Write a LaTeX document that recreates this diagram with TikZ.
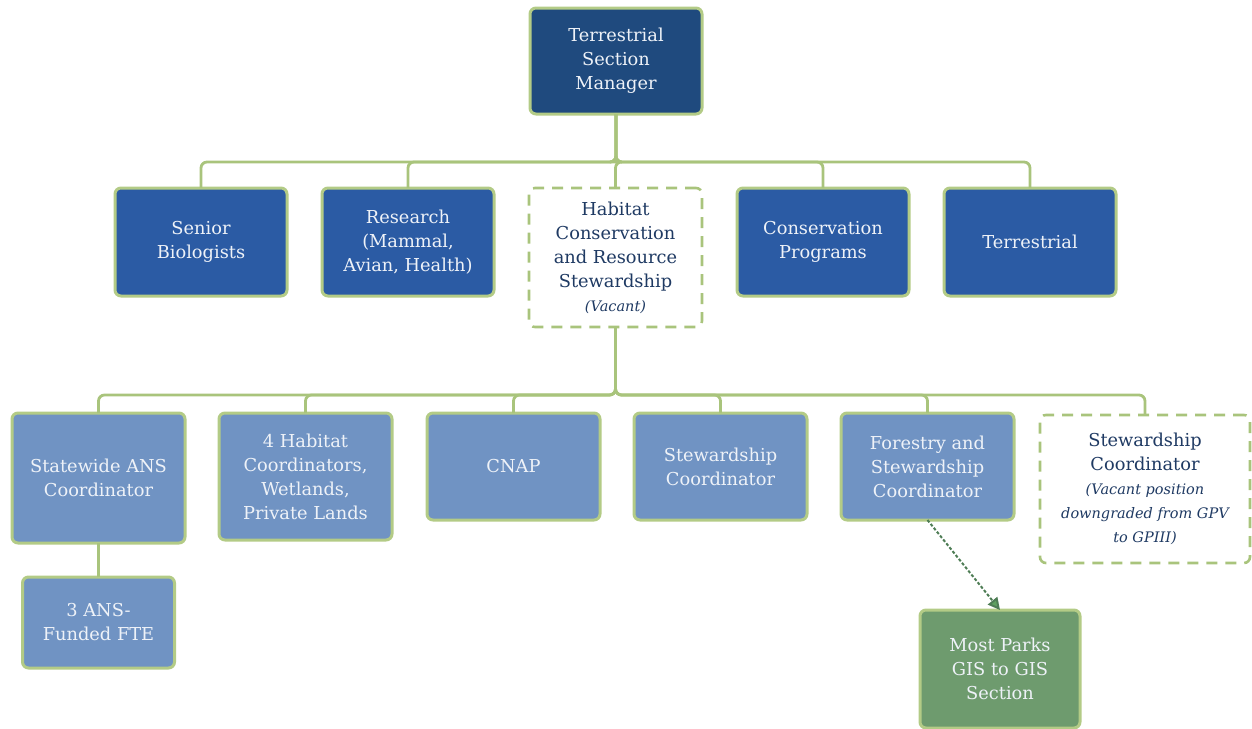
\documentclass[tikz,border=0pt]{standalone}
\usepackage{fontspec}
\setmainfont{DejaVu Serif}
\usetikzlibrary{arrows.meta,positioning}
\definecolor{navy}{HTML}{1F4A7E}
\definecolor{midblue}{HTML}{2B5BA4}
\definecolor{softblue}{HTML}{7093C3}
\definecolor{leaf}{HTML}{6E9B6E}
\definecolor{rim}{HTML}{B3CB86}
\definecolor{twig}{HTML}{A9C47C}
\definecolor{dark}{HTML}{1F3A63}
\definecolor{pale}{HTML}{EEF2F8}
\definecolor{pine}{HTML}{4E7D55}
\definecolor{sprig}{HTML}{5FA060}
\newcommand{\vac}{\fontsize{14.5}{22}\selectfont\itshape}

\begin{document}
\begin{tikzpicture}[x=1pt,y=-1pt,font=\fontsize{17.8}{24}\selectfont,node distance=35pt,
box/.style={draw=rim,line width=3pt,outer sep=0pt,rounded corners=6pt,align=center,text=pale,inner sep=4pt},
lead/.style={box,fill=navy,minimum width=172pt,minimum height=106pt},
unit/.style={box,fill=midblue,minimum width=172pt,minimum height=108pt},
post/.style={box,fill=softblue,minimum width=173pt},
open/.style={box,draw=twig,line width=2.6pt,dash pattern=on 11pt off 8pt,fill=white,text=dark},
gis/.style={box,fill=leaf,minimum width=160pt,minimum height=118pt},
link/.style={draw=twig,line width=2.8pt,rounded corners=6pt},
arrow/.style={-{Triangle[length=12pt,width=12pt,fill=sprig]},draw=pine,line width=2pt,dash pattern=on 3pt off 2pt}]
\useasboundingbox (0,0) rectangle (1252,728);
% top
\node[lead](top) at (616,61){Terrestrial\\Section\\Manager};
% second row
\node[unit,anchor=north west](sen) at (115,188){Senior\\Biologists};
\node[unit,right=35pt of sen.north east,anchor=north west](res){Research\\(Mammal,\\Avian, Health)};
\node[open,right=35pt of res.north east,anchor=north west,minimum width=173pt,minimum height=139pt](hcr){Habitat\\Conservation\\and Resource\\Stewardship\\\vac (Vacant)};
\node[unit,right=35pt of hcr.north east,anchor=north west](cp){Conservation\\Programs};
\node[unit,right=35pt of cp.north east,anchor=north west](ter){Terrestrial};
\coordinate(bar) at (0,162);
\foreach \n in {sen,res,hcr,cp,ter}{\draw[link](top.south)--(top.south|-bar)-|(\n.north);}
% third row
\node[post,anchor=north west,minimum height=130pt](ans) at (12,413){Statewide ANS\\Coordinator};
\node[post,right=34pt of ans.north east,anchor=north west,minimum height=127pt](hab){4 Habitat\\Coordinators,\\Wetlands,\\Private Lands};
\node[post,right=35pt of hab.north east,anchor=north west,minimum height=107pt](cnap){CNAP};
\node[post,right=34pt of cnap.north east,anchor=north west,minimum height=107pt](sc){Stewardship\\Coordinator};
\node[post,right=34pt of sc.north east,anchor=north west,minimum height=107pt](fsc){Forestry and\\Stewardship\\Coordinator};
\node[open,right=26pt of fsc.north east,anchor=north west,minimum width=210pt,minimum height=148pt,yshift=-2pt](vsc){Stewardship\\Coordinator\\\vac (Vacant position\\\vac downgraded from GPV\\\vac to GPIII)};
\coordinate(bar2) at (0,395);
\foreach \n in {ans,hab,cnap,sc,fsc,vsc}{\draw[link](hcr.south)--(hcr.south|-bar2)-|(\n.north);}
% below
\node[post,below=34pt of ans,minimum width=152pt,minimum height=91pt](fte){3 ANS-\\Funded FTE};
\draw[link](ans)--(fte);
\node[gis](gis) at (1000,669){Most Parks\\GIS to GIS\\Section};
\draw[arrow](fsc.south)--(gis.north);
\end{tikzpicture}
\end{document}
